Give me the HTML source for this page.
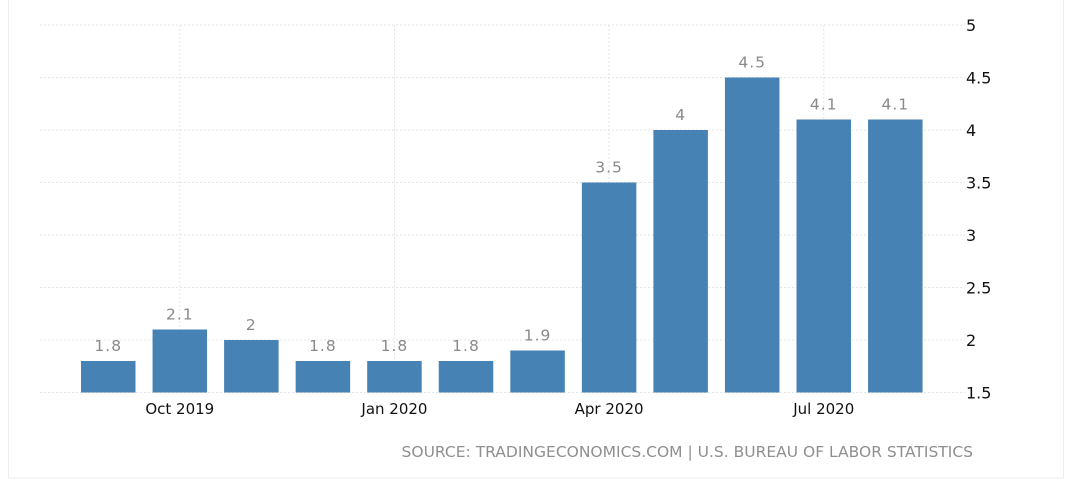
<!DOCTYPE html>
<html><head><meta charset="utf-8"><style>
body{margin:0;background:#fff;width:1080px;height:481px;overflow:hidden;font-family:"Liberation Sans","DejaVu Sans",sans-serif}
svg{display:block}
</style></head><body>
<svg id="chart" width="1080" height="481" xmlns="http://www.w3.org/2000/svg">
<rect x="8.5" y="-1" width="1055" height="479" fill="#fff" stroke="#eeeeee"/>
<g id="grid"></g><g id="bars"></g><g id="labels"></g><g id="yticks"></g><g id="xticks"></g>
<text x="973" y="457" text-anchor="end" font-size="15.5" fill="#8f8f8f" font-family="DejaVu Sans, sans-serif">SOURCE: TRADINGECONOMICS.COM | U.S. BUREAU OF LABOR STATISTICS</text>
</svg>
<script>
const categories=["Sep 2019","Oct 2019","Nov 2019","Dec 2019","Jan 2020","Feb 2020","Mar 2020","Apr 2020","May 2020","Jun 2020","Jul 2020","Aug 2020"];
const values=[1.8,2.1,2,1.8,1.8,1.8,1.9,3.5,4,4.5,4.1,4.1];
const yTicks=[1.5,2,2.5,3,3.5,4,4.5,5];
const xTickLabels=["Oct 2019","Jan 2020","Apr 2020","Jul 2020"];
const xTickIndex=[1,4,7,10];
const NS="http://www.w3.org/2000/svg";
const y0=392.5,pxPerUnit=105,yMin=1.5;
function y(v){return y0-(v-yMin)*pxPerUnit;}
const x0=81,step=71.55,bw=54.5;
function x(i){return x0+i*step;}
function mk(tag,attrs,parent){const e=document.createElementNS(NS,tag);for(const k in attrs)e.setAttribute(k,attrs[k]);document.getElementById(parent).appendChild(e);return e;}
yTicks.forEach(t=>{
 const l=mk('line',{x1:40,x2:965,y1:y(t),y2:y(t),stroke:'#e4e4e4','stroke-dasharray':'2,2'},'grid');
 
 
 const tx=mk('text',{x:966,y:y(t)+6,'font-size':16,fill:'#111','font-family':'DejaVu Sans, sans-serif'},'yticks');
 
 
 tx.textContent=t;
});
xTickIndex.forEach((ix,k)=>{
 const cx=x(ix)+bw/2;
 const l=mk('line',{x1:cx,x2:cx,y1:25,y2:y0,stroke:'#e4e4e4','stroke-dasharray':'2,2'},'grid');
 
 
 const tx=mk('text',{x:cx,y:414,'text-anchor':'middle','font-size':15,fill:'#111','font-family':'DejaVu Sans, sans-serif'},'xticks');
 
 
 tx.textContent=xTickLabels[k];
});
values.forEach((v,i)=>{
 const r=mk('rect',{x:x(i),y:y(v),width:bw,height:y0-y(v),fill:'#4682b4'},'bars');
 
 
 const t=mk('text',{x:x(i)+bw/2,y:y(v)-10,'text-anchor':'middle','font-size':15.5,fill:'#8a8a8a','font-family':'DejaVu Sans, sans-serif','letter-spacing':'1'},'labels');
 
 
 t.textContent=v;
});
</script>
</body></html>
